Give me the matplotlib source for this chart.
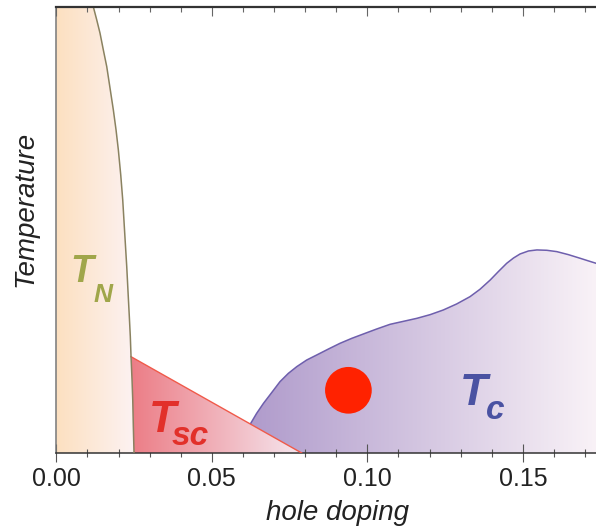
import matplotlib
matplotlib.use("Agg")
import matplotlib.pyplot as plt
import numpy as np
from matplotlib.patches import Polygon
from matplotlib.colors import LinearSegmentedColormap
from matplotlib.ticker import MultipleLocator

# Neel line T_N (doping, temperature), read from top to bottom
tn_x = [0.01190, 0.01299, 0.01405, 0.01511, 0.01621, 0.01727, 0.01833, 0.01920,
        0.01994, 0.02071, 0.02135, 0.02199, 0.02264, 0.02305, 0.02347, 0.02379,
        0.02402, 0.02434, 0.02457, 0.02476, 0.02498]
tn_y = [1.0, 0.9709, 0.9410, 0.9036, 0.8661, 0.8177, 0.7691, 0.7242,
        0.6794, 0.6233, 0.5673, 0.4926, 0.4177, 0.3617, 0.3056, 0.2608,
        0.2159, 0.1637, 0.1188, 0.0590, 0.0]

# superconducting wedge T_sc: top corner on T_N line, right corner on the axis
tsc_top = (0.02402, 0.2159)
tsc_end = 0.0789

# T_c dome
tc_x = [0.0580, 0.0625, 0.0644, 0.0666, 0.0693, 0.0719, 0.0746, 0.0773, 0.0805,
        0.0837, 0.0875, 0.0912, 0.0950, 0.0987, 0.1030, 0.1073, 0.1116, 0.1159,
        0.1202, 0.1244, 0.1287, 0.1330, 0.1362, 0.1395, 0.1421, 0.1448, 0.1470,
        0.1491, 0.1518, 0.1545, 0.1577, 0.1609, 0.1646, 0.1684, 0.1711, 0.1735]
tc_y = [0.0, 0.0665, 0.0889, 0.1114, 0.1360, 0.1599, 0.1786, 0.1936, 0.2085,
        0.2197, 0.2332, 0.2459, 0.2571, 0.2668, 0.2780, 0.2885, 0.2952, 0.3019,
        0.3102, 0.3206, 0.3341, 0.3505, 0.3670, 0.3879, 0.4066, 0.4253, 0.4372,
        0.4462, 0.4529, 0.4552, 0.4544, 0.4514, 0.4447, 0.4365, 0.4305, 0.4253]

# sample marker
dot_x, dot_y = 0.0939, 0.1406

x_max = 0.1735
x_ticks = [0.00, 0.05, 0.10, 0.15]

FONT = "Liberation Sans"


def gradient_fill(ax, xs, ys, c0, c1, x0, x1, zorder):
    poly = Polygon(np.column_stack([xs, ys]), closed=True, facecolor="none",
                   edgecolor="none")
    ax.add_patch(poly)
    cmap = LinearSegmentedColormap.from_list("grad", [c0, c1])
    im = ax.imshow(np.linspace(0, 1, 256).reshape(1, -1), cmap=cmap,
                   extent=[x0, x1, 0, 1], aspect="auto", origin="lower",
                   interpolation="bilinear", zorder=zorder)
    im.set_clip_path(poly)
    return im


fig = plt.figure(figsize=(5.96, 5.28), dpi=100)
ax = fig.add_axes([0.0945, 0.142, 0.9055, 0.845])

# T_N region
gradient_fill(ax, [0, 0] + tn_x + [tn_x[-1]], [0, 1] + tn_y + [0],
              "#fde0c0", "#fcf2f2", 0, tn_x[-1], zorder=1)

# T_c dome (below the wedge)
gradient_fill(ax, tc_x + [x_max], tc_y + [0],
              "#ad98ca", "#f9f2f7", tc_x[0], x_max, zorder=1)
ax.plot(tc_x[1:], tc_y[1:], color="#6e5fad", lw=1.1, zorder=3)

# T_sc wedge
k = tn_y.index(tsc_top[1])
wx = tn_x[k:] + [tsc_end]
wy = tn_y[k:] + [0]
gradient_fill(ax, wx, wy, "#ec7d86", "#f5e6ee", tsc_top[0], tsc_end, zorder=2)
ax.plot([tsc_top[0], tsc_end], [tsc_top[1], 0], color="#f05a4a", lw=1.0, zorder=3)

ax.plot(tn_x, tn_y, color="#8a8260", lw=1.1, zorder=4)

ax.scatter([dot_x], [dot_y], s=1130, color="#ff2200", edgecolors="none", zorder=5)

# phase labels
lab = dict(fontfamily=FONT, fontweight="bold", fontstyle="italic", zorder=6)
ax.text(0.0046, 0.384, "T", color="#a0a64a", fontsize=27, **lab)
ax.text(0.0120, 0.339, "N", color="#a0a64a", fontsize=19, **lab)
ax.text(0.0296, 0.0478, "T", color="#e2302a", fontsize=32, **lab)
ax.text(0.0370, 0.0179, "sc", color="#e2302a", fontsize=24, **lab)
ax.text(0.1296, 0.1076, "T", color="#4a52a2", fontsize=32.5, **lab)
ax.text(0.1380, 0.0756, "c", color="#4a52a2", fontsize=24, **lab)

ax.set_xlim(0, x_max)
ax.set_ylim(0, 1)
ax.set_yticks([])
ax.set_xticks(x_ticks)
ax.set_xticklabels([f"{t:.2f}" for t in x_ticks], fontfamily=FONT, fontsize=18,
                   color="#222222")
ax.xaxis.set_minor_locator(MultipleLocator(0.01))
ax.tick_params(axis="x", which="major", direction="inout", length=12.5, width=0.8,
               color="#555555", pad=3.5)
ax.tick_params(axis="x", which="minor", direction="inout", length=5.8, width=0.8,
               color="#555555")

ax.spines["right"].set_visible(False)
ax.spines["top"].set_visible(False)
ax.spines["bottom"].set_color("#333333")
ax.spines["bottom"].set_linewidth(1.1)
ax.spines["left"].set_color("#777777")
ax.spines["left"].set_linewidth(1.1)

# top frame line with inward ticks
top = ax.twiny()
top.set_xlim(0, x_max)
top.set_xticks(x_ticks)
top.set_xticklabels([])
top.xaxis.set_minor_locator(MultipleLocator(0.01))
top.tick_params(axis="x", which="major", direction="in", length=6.5, width=0.8,
                color="#666666")
top.tick_params(axis="x", which="minor", direction="in", length=3.6, width=0.8,
                color="#666666")
for side in ["left", "right", "bottom"]:
    top.spines[side].set_visible(False)
top.spines["top"].set_color("#333333")
top.spines["top"].set_linewidth(1.6)

fig.text(0.042, 1 - 209 / 528, "Temperature", rotation=90, ha="center", va="center",
         fontfamily=FONT, fontstyle="italic", fontsize=20, color="#222222")
fig.text(337 / 596, 1 - 520 / 528, "hole doping", ha="center", va="baseline",
         fontfamily=FONT, fontstyle="italic", fontsize=20, color="#222222")

fig.savefig("out.png", dpi=100)
